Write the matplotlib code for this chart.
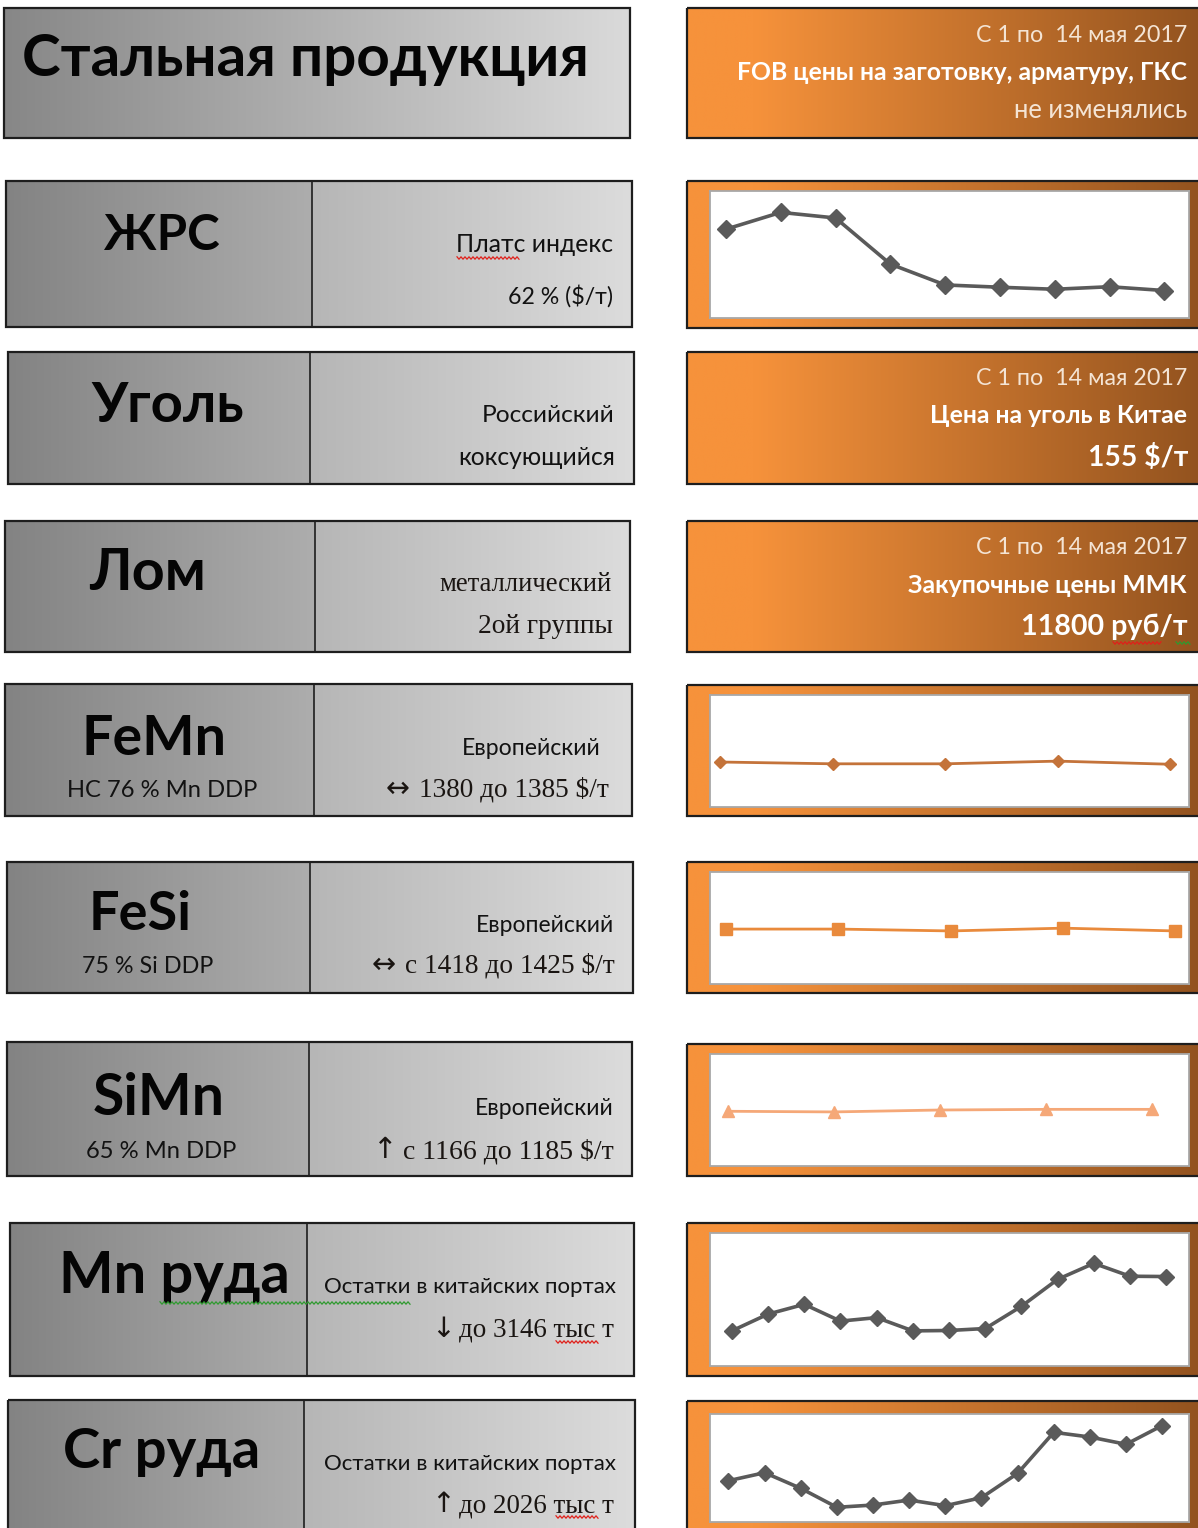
import numpy as np
import matplotlib
matplotlib.use("Agg")
import matplotlib.pyplot as plt
from matplotlib.colors import to_rgb
from matplotlib.patches import Rectangle

W, H = 1198, 1528

# series (weeks / reporting dates)
zhrs_prices = [85.0, 91.6, 89.4, 71.3, 63.1, 62.2, 61.4, 62.4, 60.9]      # $/t, 62 % Fe
femn_prices = [1380, 1378, 1378, 1381, 1377.5]                           # $/t
fesi_prices = [1419, 1419, 1417, 1420, 1417]                             # $/t
simn_prices = [1166, 1164, 1170, 1172, 1172]                             # $/t
mn_stocks = [2450, 2665, 2790, 2575, 2620, 2450, 2455, 2480, 2765, 3110, 3315, 3150, 3146]  # kt
cr_stocks = [1441, 1526, 1360, 1159, 1183, 1236, 1176, 1261, 1519, 1954, 1904, 1827, 2026]  # kt

SANS = ['Lato', 'DejaVu Sans']
SERIF = ['Liberation Serif', 'DejaVu Serif']
GREY_DARK, GREY_MID1, GREY_MID2, GREY_LIGHT = '#838383', '#adadad', '#b6b6b6', '#dcdcdc'
ORANGE, BROWN = '#f6923b', '#93531f'

fig = plt.figure(figsize=(W / 100, H / 100), dpi=100)
fig.patch.set_facecolor('white')
bg = fig.add_axes([0, 0, 1, 1])
bg.set_autoscale_on(False)
bg.set_xlim(0, W)
bg.set_ylim(H, 0)
bg.axis('off')
renderer = fig.canvas.get_renderer()


def grad(x0, y0, x1, y1, c0, c1, hold=0.0):
    t = np.linspace(0, 1, 400)
    t = np.clip((t - hold) / (1 - hold), 0, 1)
    a, b = np.array(to_rgb(c0)), np.array(to_rgb(c1))
    img = a + (b - a) * t[:, None]
    bg.imshow(img[None], extent=[x0, x1, y1, y0], aspect='auto',
              interpolation='bilinear', zorder=1)


def frame(x0, y0, x1, y1):
    bg.add_patch(Rectangle((x0, y0), x1 - x0, y1 - y0, fill=False,
                           ec='#1e1e1e', lw=1.6, zorder=3))


def put(x0, x1, y, s, family=SANS, weight='normal', color='#121212', ha='left'):
    # size the text so that it spans x0..x1 like in the original
    t = bg.text(x0 if ha == 'left' else x1, y, s, ha=ha, va='baseline',
                fontsize=20, family=family, weight=weight, color=color, zorder=4)
    w = t.get_window_extent(renderer).width
    t.set_fontsize(20 * (x1 - x0) / w)
    return t


def put_arrow(xa, x0, x1, y, arrow, rest):
    t = put(x0, x1, y, rest, family=SERIF, color='#1a1512')
    bg.text(xa, y, arrow, ha='center', va='baseline', fontsize=t.get_fontsize() * 1.05,
            family=['DejaVu Sans'], color='#1a1512', zorder=4)


def squiggle(x0, x1, y, color):
    xs = np.arange(x0, x1 + 1, 2.0)
    ys = y + np.where(np.arange(len(xs)) % 2 == 0, -1.2, 1.2)
    bg.plot(xs, ys, color=color, lw=0.9, zorder=5)


def grey_box(x0, y0, x1, y1, xdiv=None):
    if xdiv is None:
        grad(x0, y0, x1, y1, '#878787', '#dadada')
    else:
        grad(x0, y0, xdiv, y1, GREY_DARK, GREY_MID1)
        grad(xdiv, y0, x1, y1, GREY_MID2, GREY_LIGHT)
        bg.plot([xdiv, xdiv], [y0, y1], color='#1e1e1e', lw=1.2, zorder=3)
    frame(x0, y0, x1, y1)


def orange_box(y0, y1):
    grad(687, y0, 1200, y1, ORANGE, BROWN, hold=0.13)
    frame(687, y0, 1205, y1)


def chart(y0, y1, iy0, iy1, values, xlim, ylim, color, marker, ms, lw):
    orange_box(y0, y1)
    ax = fig.add_axes([709.5 / W, 1 - iy1 / H, (1188.5 - 709.5) / W, (iy1 - iy0) / H])
    ax.set_facecolor('white')
    ax.plot(range(len(values)), values, color=color, lw=lw, marker=marker,
            ms=ms, mec=color, mfc=color)
    ax.set_xlim(*xlim)
    ax.set_ylim(*ylim)
    ax.set_xticks([])
    ax.set_yticks([])
    for sp in ax.spines.values():
        sp.set_color('#a8a8a8')
        sp.set_linewidth(1.3)
    return ax


DATE = 'С 1 по  14 мая 2017'
DATE_C = '#f4e4d4'
RED, GREEN = '#e0201a', '#2f9a2f'

# ---- title row
grey_box(4, 8, 630, 138)
put(22, 590, 76, 'Стальная продукция', weight='bold', color='#050505')
orange_box(8, 138)
put(976, 1188, 42, DATE, color=DATE_C)
put(737, 1189, 80, 'FOB цены на заготовку, арматуру, ГКС', weight='bold', color='white')
put(1014, 1188, 118, 'не изменялись', color=DATE_C)

# ---- ЖРС
grey_box(6, 181, 632, 327, 312)
put(104, 220, 250, 'ЖРС', weight='bold', color='#050505')
put(456, 613, 252, 'Платс индекс')
squiggle(457, 520, 258, RED)
put(508, 613, 304, '62 % ($/т)')
chart(181, 328, 191, 318.3, zhrs_prices, (-0.30, 8.44), (50, 100),
      '#5a5a5a', 'D', 9, 2.6)

# ---- Уголь
grey_box(8, 352, 634, 484, 310)
put(91, 244, 422, 'Уголь', weight='bold', color='#050505')
put(482, 615, 422, 'Российский')
put(458, 615, 465, 'коксующийся')
orange_box(352, 484)
put(976, 1188, 385, DATE, color=DATE_C)
put(930, 1188, 423, 'Цена на уголь в Китае', weight='bold', color='white')
put(1088, 1188, 466, '155 $/т', weight='bold', color='white')

# ---- Лом
grey_box(5, 521, 630, 652, 315)
put(89, 206, 590, 'Лом', weight='bold', color='#050505')
put(439, 612, 591, 'металлический', family=SERIF, color='#1a1512')
put(478, 613, 633, '2ой группы', family=SERIF, color='#1a1512')
orange_box(521, 652)
put(976, 1188, 554, DATE, color=DATE_C)
put(908, 1188, 593, 'Закупочные цены ММК', weight='bold', color='white')
put(1021, 1188, 635, '11800 руб/т', weight='bold', color='white')
squiggle(1113, 1162, 643, RED)
squiggle(1176, 1190, 643, GREEN)

# ---- FeMn
grey_box(5, 684, 632, 816, 314)
put(82, 227, 755, 'FeMn', weight='bold', color='#050505')
put(67, 258, 797, 'HC 76 % Mn DDP')
put(462, 601, 755, 'Европейский')
put_arrow(398, 419, 609, 797, '↔', '1380 до 1385 $/т')
chart(685, 816, 695, 806.7, femn_prices, (-0.095, 4.162), (1330, 1455),
      '#c4733a', 'D', 6, 2.0)

# ---- FeSi
grey_box(7, 862, 633, 993, 310)
put(89, 192, 930, 'FeSi', weight='bold', color='#050505')
put(82, 213, 973, '75 % Si DDP')
put(476, 614, 932, 'Европейский')
put_arrow(384, 405, 615, 973, '↔', 'с 1418 до 1425 $/т')
chart(862, 993, 872.3, 984, fesi_prices, (-0.148, 4.116), (1360, 1480),
      '#e98a3c', 's', 9, 2.0)

# ---- SiMn
grey_box(7, 1042, 632, 1176, 309)
put(93, 225, 1115, 'SiMn', weight='bold', color='#050505')
put(86, 237, 1158, '65 % Mn DDP')
put(475, 614, 1115, 'Европейский')
put_arrow(385, 403, 614, 1158, '↑', 'с 1166 до 1185 $/т')
chart(1044, 1176, 1054, 1166, simn_prices, (-0.173, 4.342), (995, 1345),
      '#f5a878', '^', 9, 2.0)

# ---- Mn руда
grey_box(10, 1223, 634, 1376, 307)
put(59, 290, 1293, 'Mn руда', weight='bold', color='#050505')
put(324, 616, 1293, 'Остатки в китайских портах')
squiggle(160, 410, 1303, GREEN)
put_arrow(443, 459, 614, 1337, '↓', 'до 3146 тыс т')
squiggle(556, 598, 1342, RED)
chart(1223, 1376, 1233.3, 1366, mn_stocks, (-0.618, 12.615), (2000, 3700),
      '#5a5a5a', 'D', 8.5, 2.6)

# ---- Cr руда
grey_box(8, 1400, 635, 1540, 304)
put(63, 261, 1468, 'Cr руда', weight='bold', color='#050505')
put(324, 616, 1470, 'Остатки в китайских портах')
put_arrow(443, 459, 614, 1512, '↑', 'до 2026 тыс т')
squiggle(556, 598, 1517, RED)
chart(1401, 1540, 1414.3, 1522.3, cr_stocks, (-0.525, 12.727), (1000, 2145),
      '#5a5a5a', 'D', 8.5, 2.6)

fig.savefig('out.png', dpi=100, facecolor='white')
